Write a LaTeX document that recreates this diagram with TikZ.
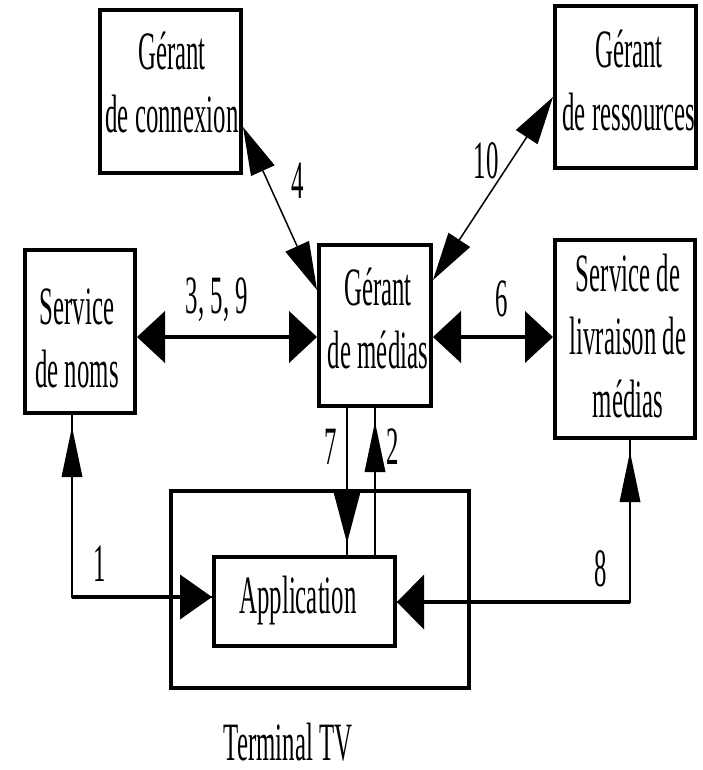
\documentclass[tikz,border=0pt]{standalone}
\usepackage{fontspec}
\setmainfont{Liberation Serif}
\usetikzlibrary{arrows.meta}
\begin{document}
\begin{tikzpicture}[x=1pt,y=-1pt,
  box/.style={draw, line width=4pt, inner sep=0pt},
  txt/.style={align=center, xscale=0.46, font=\fontsize{54}{63}\selectfont, inner sep=0pt},
  lbl/.style={xscale=0.46, font=\fontsize{54}{63}\selectfont, inner sep=0pt},
  hline/.style={line width=4pt},
  vline/.style={line width=2pt},
  dline/.style={line width=1.5pt},
  Hh/.tip={Triangle[length=28pt,width=52pt,line width=0pt]},
  Dd/.tip={Triangle[length=48pt,width=26pt,line width=0pt]},
  Vv/.tip={Triangle[length=50pt,width=21pt,line width=0pt]},
  Vw/.tip={Triangle[length=51pt,width=27pt,line width=0pt]},
  Lh/.tip={Triangle[length=32pt,width=45pt,line width=0pt]},
  Rh/.tip={Triangle[length=27pt,width=55pt,line width=0pt]}
]
\useasboundingbox (0,0) rectangle (702,770);

% boxes
\node[box, minimum width=298pt, minimum height=197pt] (term) at (320,589.5) {};
\node[box, minimum width=141pt, minimum height=163pt] (conn) at (170.5,91.5) {};
\node[box, minimum width=141pt, minimum height=162pt] (res) at (625.5,87) {};
\node[box, minimum width=110pt, minimum height=163pt] (noms) at (80,331.5) {};
\node[box, minimum width=112pt, minimum height=161pt] (medias) at (375,325.5) {};
\node[box, minimum width=140pt, minimum height=198pt] (livr) at (625,339) {};
\node[box, minimum width=181pt, minimum height=89pt] (app) at (304.5,601.5) {};

% box texts
\node[txt] (tconn) at (172,82) {Gérant\\de connexion};
\node[txt] (tres) at (629,80) {Gérant\\de ressources};
\node[txt] (tnoms) at (77,338) {Service\\de noms};
\node[txt] (tmed) at (378,318) {Gérant\\de médias};
\node[txt] (tlivr) at (628,336) {Service de\\livraison de\\médias};
\node[txt] (tapp) at (298,601) {Application};
\node[lbl] (lterm) at (288,742) {Terminal TV};

% labels
\node[lbl] (l4) at (298,181) {4};
\node[lbl] (l10) at (486,161) {10};
\node[lbl] (l359) at (217,300) {3, 5, 9};
\node[lbl] (l6) at (502,299) {6};
\node[lbl] (l7) at (331,447) {7};
\node[lbl] (l2) at (393,447) {2};
\node[lbl] (l1) at (100,564) {1};
\node[lbl] (l8) at (601,569) {8};

% horizontal double arrows
\draw[hline, Hh-Hh] (noms.east |- 0,337) -- (medias.west |- 0,337);
\draw[hline, Hh-Hh] (medias.east |- 0,337) -- (livr.west |- 0,337);

% diagonal double arrows
\draw[dline, Dd-Dd] (conn.east |- 0,127) -- (medias.west |- 0,290);
\draw[dline, Dd-Dd] (medias.east |- 0,280) -- (res.west |- 0,97);

% 7 and 2
\draw[vline] (medias.south -| 347,0) -- (app.north -| 347,0);
\draw[vline, -Vw, shorten >=12pt] (medias.south -| 347,0) -- (app.north -| 347,0);
\draw[vline] (app.north -| 375,0) -- (medias.south -| 375,0);
\draw[vline, -Vv, shorten >=14pt] (app.north -| 375,0) -- (medias.south -| 375,0);

% 1
\coordinate (c1) at (72,597);
\draw[vline] (noms.south -| c1) -- (c1) -- (app.west |- c1);
\draw[vline, -Vv, shorten >=12pt] (c1) -- (noms.south -| c1);
\draw[hline, -Lh] (c1) -- (app.west |- c1);

% 8
\coordinate (c8) at (630,602);
\draw[vline] (livr.south -| c8) -- (c8) -- (app.east |- c8);
\draw[vline, -Vv, shorten >=12pt] (c8) -- (livr.south -| c8);
\draw[hline, -Rh] (c8) -- (app.east |- c8);
\end{tikzpicture}
\end{document}
